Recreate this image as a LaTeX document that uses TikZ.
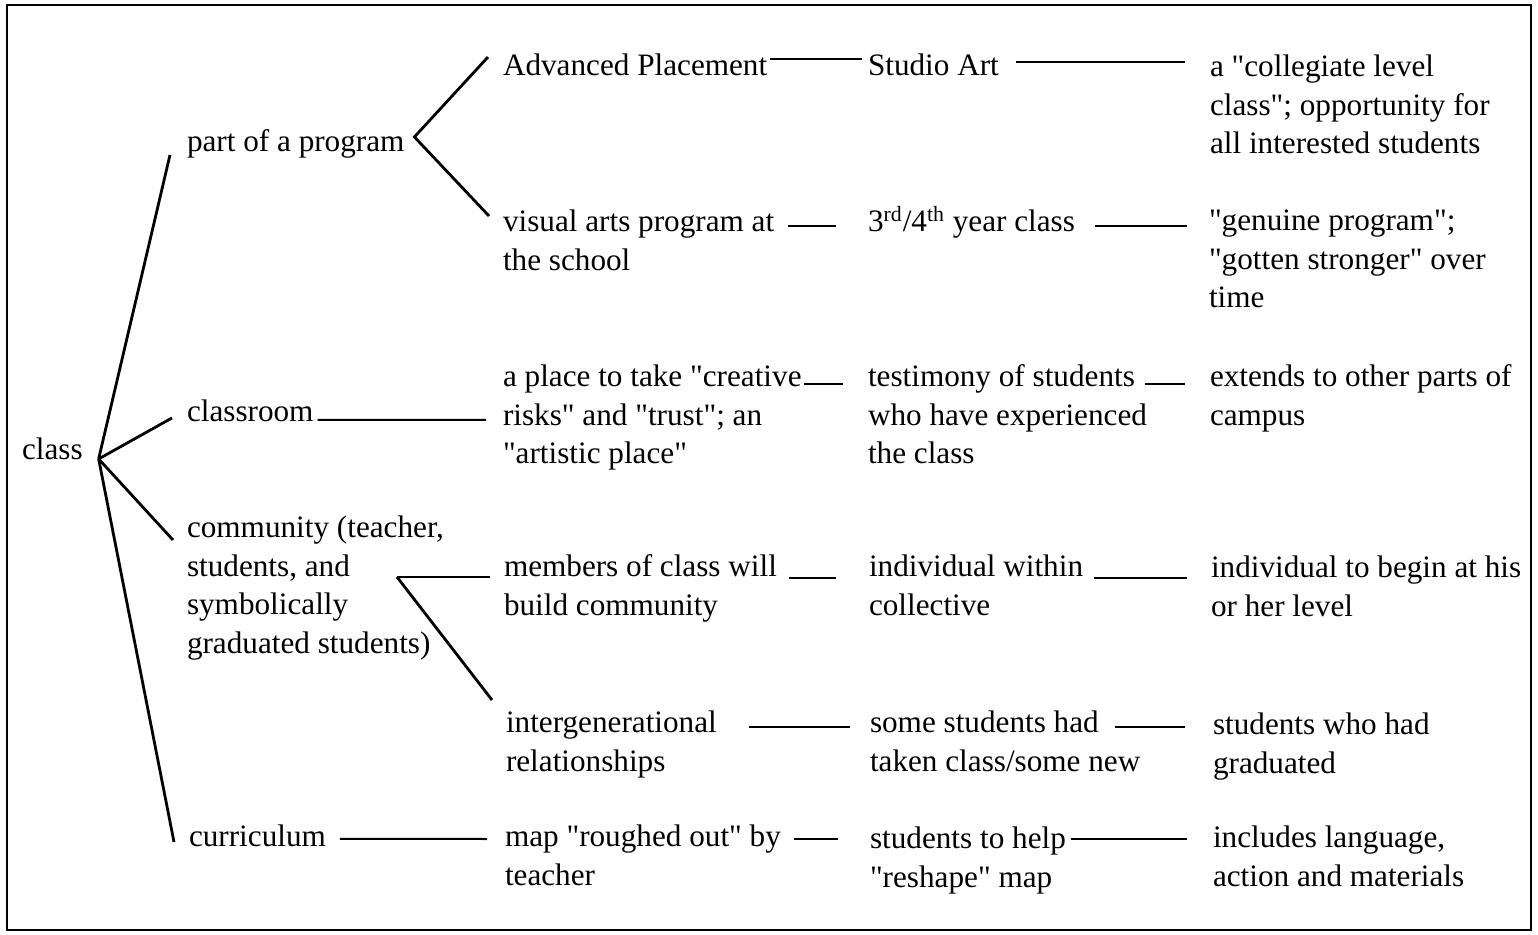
\documentclass[tikz,border=0pt]{standalone}
\usepackage{fontspec}
\setmainfont{Liberation Serif}
\newcommand{\dq}{\textquotedbl}
\begin{document}
\begin{tikzpicture}[x=0.5pt,y=-0.5pt,
  lbl/.style={anchor=north west, inner sep=0pt, outer sep=0pt, align=left,
    font=\fontsize{15.6}{19.25}\selectfont, execute at begin node=\strut},
  branch/.style={line width=1.4pt},
  link/.style={line width=1pt},
  frame/.style={line width=1pt}]
\useasboundingbox (0,0) rectangle (1538,935);
\draw[frame] (7,5) rectangle (1531,930);

% root
\node[lbl] (class) at (22,433) {class};

% second level
\node[lbl] (prog) at (187,125) {part of a program};
\node[lbl] (room) at (187,395) {classroom};
\node[lbl] (comm) at (187,516) {community (teacher,\\students, and\\symbolically\\graduated students)};
\node[lbl] (curr) at (189,820) {curriculum};

% third level
\node[lbl] (ap)    at (503,49)  {Advanced Placement};
\node[lbl] (vis)   at (503,210) {visual arts program at\\the school};
\node[lbl] (place) at (503,365) {a place to take \dq creative\\risks\dq{} and \dq trust\dq; an\\\dq artistic place\dq};
\node[lbl] (memb)  at (504,555) {members of class will\\build community};
\node[lbl] (inter) at (506,711) {intergenerational\\relationships};
\node[lbl] (map)   at (505,825) {map \dq roughed out\dq{} by\\teacher};

% fourth level
\node[lbl] (sa)    at (868,49)  {Studio Art};
\node[lbl] (yr)    at (868,205) {3\textsuperscript{rd}/4\textsuperscript{th} year class};
\node[lbl] (test)  at (868,365) {testimony of students\\who have experienced\\the class};
\node[lbl] (indiv) at (869,555) {individual within\\collective};
\node[lbl] (some)  at (870,711) {some students had\\taken class/some new};
\node[lbl] (help)  at (870,827) {students to help\\\dq reshape\dq{} map};

% fifth level
\node[lbl] (coll) at (1210,55)  {a \dq collegiate level\\class\dq; opportunity for\\all interested students};
\node[lbl] (gen)  at (1209,210) {\dq genuine program\dq;\\\dq gotten stronger\dq{} over\\time};
\node[lbl] (ext)  at (1210,365) {extends to other parts of\\campus};
\node[lbl] (lvl)  at (1211,556) {individual to begin at his\\or her level};
\node[lbl] (grad) at (1213,713) {students who had\\graduated};
\node[lbl] (incl) at (1213,826) {includes language,\\action and materials};

% fan out of the root
\coordinate (root) at ([shift={(16,-1)}]class.base east);
\draw[branch] (root) -- ([shift={(-17,3)}]prog.base west);
\draw[branch] (root) -- ([shift={(-15,-4)}]room.base west);
\draw[branch] (root) -- ([shift={(-14,24)}]comm.north west);
\draw[branch] (root) -- ([shift={(-15,-5)}]curr.base west);

% bracket after "part of a program"
\coordinate (pv) at ([shift={(10,-15)}]prog.base east);
\draw[branch] ([shift={(-15,8)}]ap.north west) -- (pv) -- ([shift={(-14,6)}]vis.north west);

% bracket after "community"
\coordinate (cv) at ([shift={(210,61)}]comm.north west);
\draw[link] (cv) -- ([shift={(-14,22)}]memb.north west);
\draw[branch] (cv) -- ([shift={(-14,-11)}]inter.north west);

% horizontal links
\draw[link] ([shift={(3,10)}]ap.north east) -- ([shift={(-6,10)}]sa.north west);
\draw[link] ([shift={(17,13)}]sa.north east) -- ([shift={(-25,7)}]coll.north west);
\draw[link] ([shift={(14,16)}]vis.north east) -- ([shift={(-32,21)}]yr.north west);
\draw[link] ([shift={(20,21)}]yr.north east) -- ([shift={(-22,16)}]gen.north west);
\draw[link] ([shift={(4,-2)}]room.base east) -- ([shift={(-17,55)}]place.north west);
\draw[link] ([shift={(2,19)}]place.north east) -- ([shift={(-25,19)}]test.north west);
\draw[link] ([shift={(277,19)}]test.north west) -- ([shift={(-25,19)}]ext.north west);
\draw[link] ([shift={(12,23)}]memb.north east) -- ([shift={(-33,23)}]indiv.north west);
\draw[link] ([shift={(225,23)}]indiv.north west) -- ([shift={(-24,22)}]lvl.north west);
\draw[link] ([shift={(32,16)}]inter.north east) -- ([shift={(-20,16)}]some.north west);
\draw[link] ([shift={(245,16)}]some.north west) -- ([shift={(-28,14)}]grad.north west);
\draw[link] ([shift={(14,-8)}]curr.base east) -- ([shift={(-18,14)}]map.north west);
\draw[link] ([shift={(13,14)}]map.north east) -- ([shift={(-32,12)}]help.north west);
\draw[link] ([shift={(5,12)}]help.north east) -- ([shift={(-26,13)}]incl.north west);
\end{tikzpicture}
\end{document}
